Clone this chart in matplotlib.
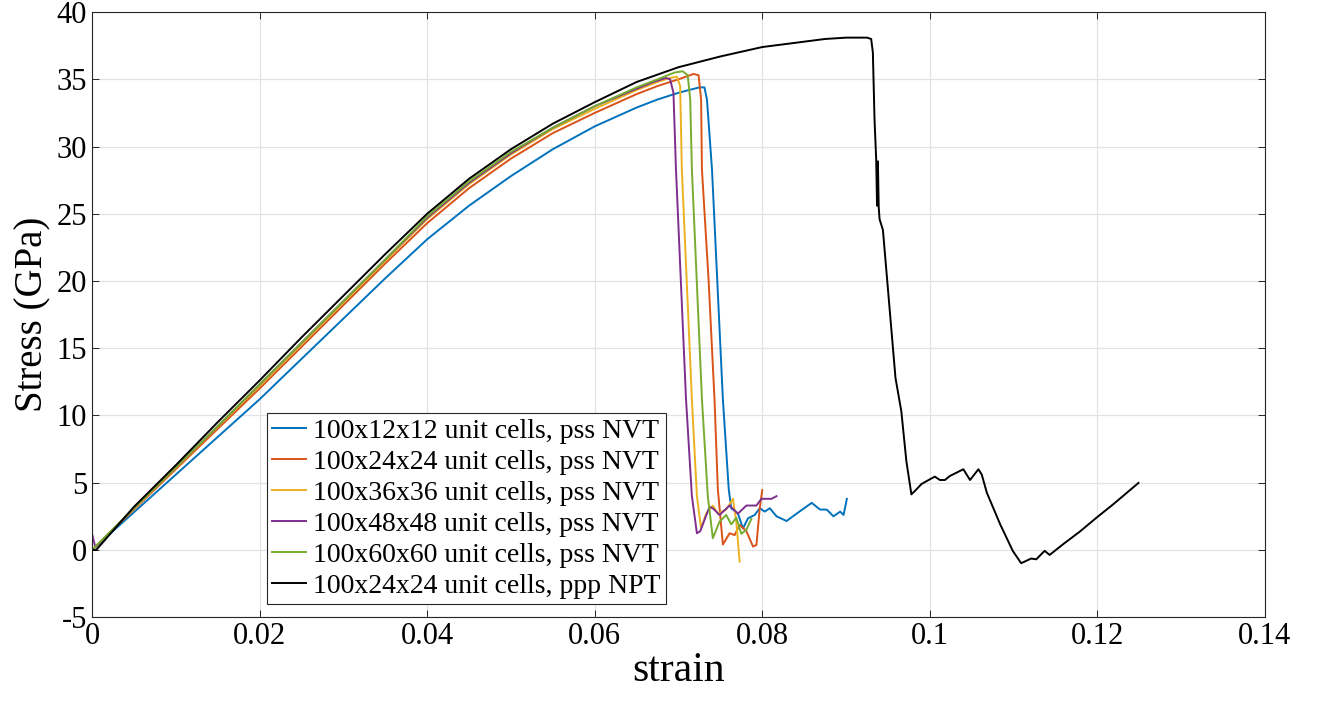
import matplotlib
matplotlib.use('Agg')
from matplotlib import pyplot as plt

plt.rcParams['font.family'] = ['Liberation Serif', 'DejaVu Serif']
plt.rcParams['axes.unicode_minus'] = False

# strain / stress (GPa)
x_12 = [0, 0.005, 0.01, 0.015, 0.02, 0.025, 0.03, 0.035, 0.04, 0.045, 0.05, 0.055, 0.06, 0.065, 0.0675, 0.07,
        0.0725, 0.0731, 0.0734, 0.074, 0.0753, 0.076, 0.0763, 0.0771, 0.0777, 0.0783, 0.0791, 0.0797,
        0.0803, 0.0809, 0.0817, 0.0829, 0.0841, 0.0859, 0.0869, 0.0877, 0.0885, 0.0893, 0.0897, 0.0901]
y_12 = [0, 2.8, 5.6, 8.4, 11.2, 14.2, 17.2, 20.2, 23.1, 25.6, 27.8, 29.8, 31.5, 32.9, 33.5, 34.0,
        34.4, 34.4, 33.5, 28.3, 11.2, 4.5, 3.1, 2.7, 1.6, 2.35, 2.6, 3.1,
        2.85, 3.1, 2.5, 2.15, 2.7, 3.5, 3.0, 3.0, 2.5, 2.85, 2.6, 3.8]

x_24 = [0, 0.005, 0.01, 0.015, 0.02, 0.025, 0.03, 0.035, 0.04, 0.045, 0.05, 0.055, 0.06, 0.065, 0.0675, 0.07,
        0.0718, 0.0724, 0.0727, 0.0728, 0.0736, 0.0743, 0.0747, 0.0753, 0.0761, 0.0767, 0.0773,
        0.0781, 0.0789, 0.0793, 0.0797, 0.0800]
y_24 = [0, 3.0, 6.0, 9.0, 12.0, 15.1, 18.2, 21.3, 24.3, 26.9, 29.1, 31.0, 32.5, 33.9, 34.5, 35.0,
        35.4, 35.3, 33.5, 28.3, 20.0, 11.2, 4.5, 0.4, 1.24, 1.1, 1.86,
        1.4, 0.25, 0.37, 3.1, 4.45]

x_36 = [0, 0.005, 0.01, 0.015, 0.02, 0.025, 0.03, 0.035, 0.04, 0.045, 0.05, 0.055, 0.06, 0.065, 0.0675,
        0.069, 0.0698, 0.0702, 0.0704, 0.0716, 0.0722, 0.0727, 0.0733, 0.0741, 0.0747, 0.0757,
        0.0765, 0.0769, 0.0773]
y_36 = [0, 3.05, 6.1, 9.15, 12.2, 15.3, 18.4, 21.5, 24.6, 27.2, 29.4, 31.3, 32.8, 34.2, 34.8,
        35.1, 35.2, 34.5, 28.3, 11.2, 4.0, 1.6, 2.7, 3.3, 2.7, 3.0,
        3.8, 2.1, -0.87]

x_48 = [0, 0.0004, 0.005, 0.01, 0.015, 0.02, 0.025, 0.03, 0.035, 0.04, 0.045, 0.05, 0.055, 0.06,
        0.065, 0.067, 0.0685, 0.069, 0.0694, 0.0697, 0.0709, 0.0716, 0.0722, 0.0726, 0.0737, 0.0741,
        0.0749, 0.0761, 0.0771, 0.0781, 0.0793, 0.0799, 0.0811, 0.0817]
y_48 = [1.2, 0.2, 3.1, 6.15, 9.2, 12.3, 15.4, 18.5, 21.6, 24.7, 27.3, 29.5, 31.4, 33.0,
        34.3, 34.8, 35.1, 35.0, 34.0, 28.3, 11.2, 4.0, 1.24, 1.4, 3.2, 3.1,
        2.6, 3.3, 2.7, 3.3, 3.3, 3.8, 3.8, 4.0]

x_60 = [0, 0.005, 0.01, 0.015, 0.02, 0.025, 0.03, 0.035, 0.04, 0.045, 0.05, 0.055, 0.06, 0.065, 0.0675,
        0.0695, 0.0705, 0.0711, 0.0714, 0.0716, 0.0728, 0.0735, 0.0741, 0.0749, 0.0757, 0.0763,
        0.0769, 0.0775, 0.0781, 0.0787]
y_60 = [0, 3.1, 6.15, 9.2, 12.3, 15.4, 18.5, 21.6, 24.8, 27.4, 29.6, 31.4, 33.0, 34.4, 35.0,
        35.5, 35.6, 35.3, 33.5, 28.3, 11.2, 4.0, 0.87, 2.1, 2.6, 1.9,
        2.4, 1.2, 1.5, 2.3]

x_npt = [0, 0.0005, 0.005, 0.01, 0.015, 0.02, 0.025, 0.03, 0.035, 0.04, 0.045, 0.05, 0.055, 0.06,
         0.065, 0.07, 0.075, 0.08, 0.085, 0.0875, 0.09, 0.0925, 0.093, 0.0932, 0.0934, 0.0936,
         0.0937, 0.0938, 0.0939, 0.094, 0.0944, 0.0959, 0.0966, 0.0972, 0.0978, 0.0984, 0.099,
         0.1, 0.1006, 0.1012, 0.1018, 0.1024, 0.104, 0.1048, 0.1058, 0.1062, 0.1068, 0.1084,
         0.1099, 0.1109, 0.1121, 0.1127, 0.1137, 0.1143, 0.1159, 0.1179, 0.1199, 0.1219, 0.1249]
y_npt = [0, 0, 3.2, 6.3, 9.5, 12.6, 15.8, 18.9, 22.0, 25.0, 27.6, 29.8, 31.7, 33.3,
         34.8, 35.9, 36.7, 37.4, 37.8, 38.0, 38.1, 38.1, 38.0, 37.0, 32.0, 29.0,
         25.6, 28.9, 25.5, 24.6, 23.8, 12.8, 10.3, 6.6, 4.13, 4.5, 4.9,
         5.25, 5.45, 5.2, 5.2, 5.5, 6.0, 5.2, 6.0, 5.6, 4.26, 1.9,
         -0.07, -0.99, -0.64, -0.7, -0.07, -0.37, 0.42, 1.36, 2.4, 3.4, 4.98]

labels = ['100x12x12 unit cells, pss NVT', '100x24x24 unit cells, pss NVT',
          '100x36x36 unit cells, pss NVT', '100x48x48 unit cells, pss NVT',
          '100x60x60 unit cells, pss NVT', '100x24x24 unit cells, ppp NPT']
colors = ['#0072BD', '#D95319', '#EDB120', '#7E2F8E', '#77AC30', 'black']

fig = plt.figure(figsize=(13.2, 7.11), dpi=100)
ax = fig.add_axes([0.0697, 0.132, 0.8886, 0.851])
series = [(x_12, y_12), (x_24, y_24), (x_36, y_36), (x_48, y_48), (x_60, y_60), (x_npt, y_npt)]
for (xs, ys), lab, c in zip(series, labels, colors):
	ax.plot(xs, ys, color=c, lw=1.4, label=lab)

ax.set_xlim(0, 0.14)
ax.set_ylim(-5, 40)
ax.set_xticks([0, 0.02, 0.04, 0.06, 0.08, 0.1, 0.12, 0.14])
ax.set_xticklabels(['0', '0.02', '0.04', '0.06', '0.08', '0.1', '0.12', '0.14'])
ax.set_yticks(range(-5, 41, 5))
ax.grid(True, color='#e3e3e3', lw=0.9)
ax.set_axisbelow(True)
ax.tick_params(direction='in', top=True, right=True, labelsize=22, colors='#262626',
	length=5, width=0.7, labelcolor='black')
for s in ax.spines.values():
	s.set_color('#262626')
	s.set_linewidth(0.8)
ax.set_xlabel('strain', fontsize=30, labelpad=0)
ax.set_ylabel('Stress (GPa)', fontsize=28, labelpad=4)

leg = ax.legend(loc='lower left', bbox_to_anchor=(0.149, 0.0215), borderaxespad=0,
	fontsize=20, fancybox=False, edgecolor='#262626', framealpha=1,
	handlelength=1.2, handletextpad=0.25, labelspacing=0.2, borderpad=0.2)
leg.get_frame().set_linewidth(0.8)

plt.savefig('out.png', dpi=100)
